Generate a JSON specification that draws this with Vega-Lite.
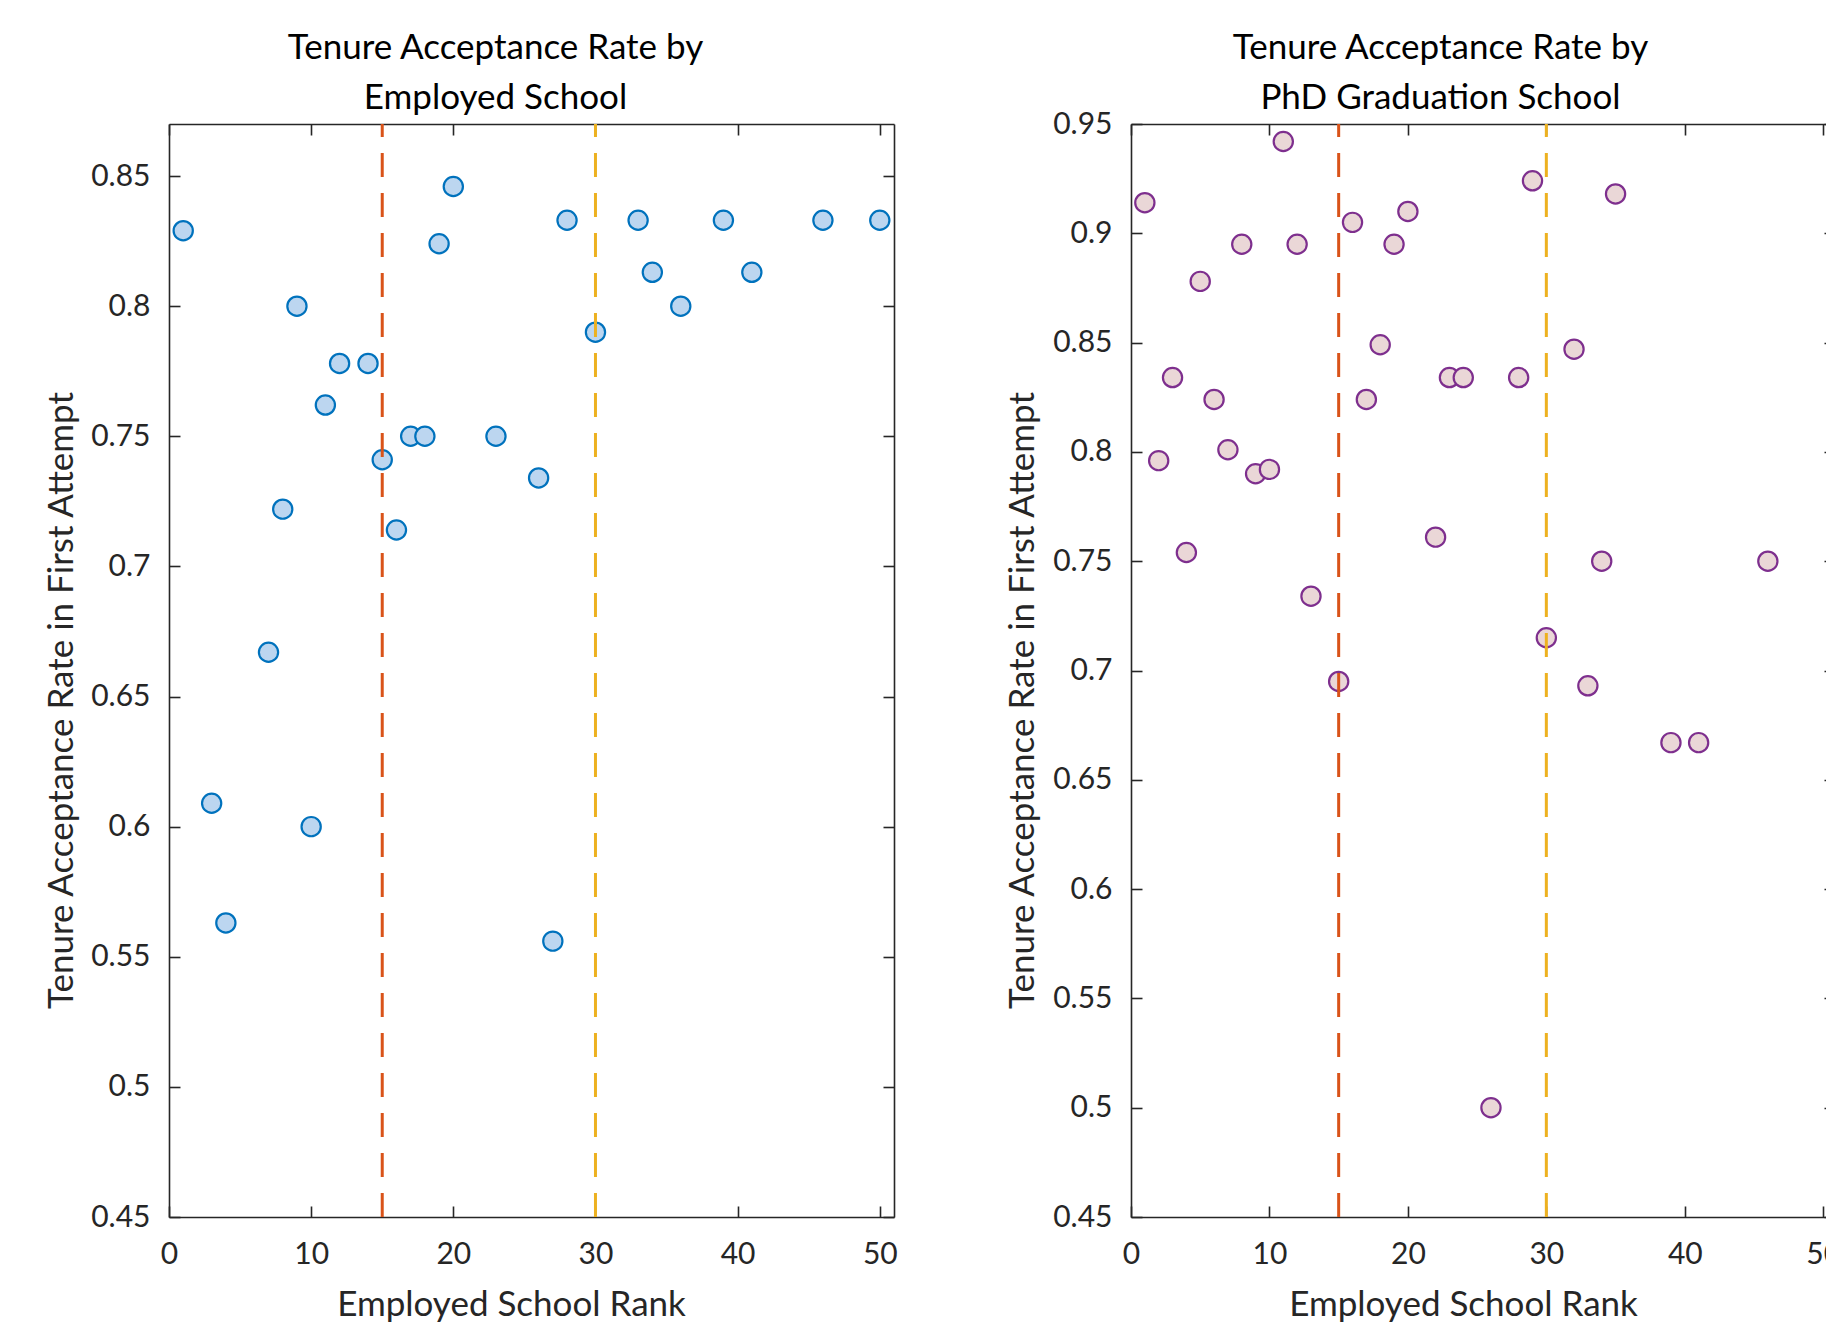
{
  "$schema": "https://vega.github.io/schema/vega-lite/v6.json",
  "background": "white",
  "padding": {"left": 44, "top": 30, "right": 0, "bottom": 0},
  "bounds": "flush",
  "spacing": 237,
  "datasets": {
    "employed": [
      {"rank": 1, "rate": 0.829}, {"rank": 3, "rate": 0.609}, {"rank": 4, "rate": 0.563},
      {"rank": 7, "rate": 0.667}, {"rank": 8, "rate": 0.722}, {"rank": 9, "rate": 0.800},
      {"rank": 10, "rate": 0.600}, {"rank": 11, "rate": 0.762}, {"rank": 12, "rate": 0.778},
      {"rank": 14, "rate": 0.778}, {"rank": 15, "rate": 0.741}, {"rank": 16, "rate": 0.714},
      {"rank": 17, "rate": 0.750}, {"rank": 18, "rate": 0.750}, {"rank": 19, "rate": 0.824},
      {"rank": 20, "rate": 0.846}, {"rank": 23, "rate": 0.750}, {"rank": 26, "rate": 0.734},
      {"rank": 27, "rate": 0.556}, {"rank": 28, "rate": 0.833}, {"rank": 30, "rate": 0.790},
      {"rank": 33, "rate": 0.833}, {"rank": 34, "rate": 0.813}, {"rank": 36, "rate": 0.800},
      {"rank": 39, "rate": 0.833}, {"rank": 41, "rate": 0.813}, {"rank": 46, "rate": 0.833},
      {"rank": 50, "rate": 0.833}
    ],
    "phd": [
      {"rank": 1, "rate": 0.914}, {"rank": 2, "rate": 0.796}, {"rank": 3, "rate": 0.834},
      {"rank": 4, "rate": 0.754}, {"rank": 5, "rate": 0.878}, {"rank": 6, "rate": 0.824},
      {"rank": 7, "rate": 0.801}, {"rank": 8, "rate": 0.895}, {"rank": 9, "rate": 0.790},
      {"rank": 10, "rate": 0.792}, {"rank": 11, "rate": 0.942}, {"rank": 12, "rate": 0.895},
      {"rank": 13, "rate": 0.734}, {"rank": 15, "rate": 0.695}, {"rank": 16, "rate": 0.905},
      {"rank": 17, "rate": 0.824}, {"rank": 18, "rate": 0.849}, {"rank": 19, "rate": 0.895},
      {"rank": 20, "rate": 0.910}, {"rank": 22, "rate": 0.761}, {"rank": 23, "rate": 0.834},
      {"rank": 24, "rate": 0.834}, {"rank": 26, "rate": 0.500}, {"rank": 28, "rate": 0.834},
      {"rank": 29, "rate": 0.924}, {"rank": 30, "rate": 0.715}, {"rank": 32, "rate": 0.847},
      {"rank": 33, "rate": 0.693}, {"rank": 34, "rate": 0.750}, {"rank": 35, "rate": 0.918},
      {"rank": 39, "rate": 0.667}, {"rank": 41, "rate": 0.667}, {"rank": 46, "rate": 0.750}
    ],
    "cutoffs": [
      {"rank": 15, "tier": "Top 15"},
      {"rank": 30, "tier": "Top 30"}
    ]
  },
  "hconcat": [
    {
      "width": 725,
      "height": 1093,
      "title": {"text": ["Tenure Acceptance Rate by", "Employed School"], "dx": -36, "offset": 7},
      "layer": [
        {
          "data": {"name": "employed"},
          "mark": {"type": "circle", "size": 370, "fill": "#BCD6F0", "stroke": "#0072BD", "strokeWidth": 2.2, "opacity": 1},
          "encoding": {
            "x": {
              "field": "rank", "type": "quantitative",
              "scale": {"domain": [0, 51], "nice": false, "zero": false},
              "axis": {"orient": "bottom", "values": [0, 10, 20, 30, 40, 50], "title": "Employed School Rank", "titleX": 342, "titleY": 87, "titleBaseline": "middle", "titleAlign": "center"}
            },
            "y": {
              "field": "rate", "type": "quantitative",
              "scale": {"domain": [0.45, 0.87], "nice": false, "zero": false},
              "axis": {"orient": "left", "values": [0.45, 0.5, 0.55, 0.6, 0.65, 0.7, 0.75, 0.8, 0.85], "format": ".2~f", "title": "Tenure Acceptance Rate in First Attempt", "titleX": -108, "titleY": 576, "titleBaseline": "middle", "titleAlign": "center", "titleAngle": -90}
            }
          }
        },
        {
          "data": {"name": "cutoffs"},
          "mark": {"type": "rule", "strokeDash": [24, 16], "strokeWidth": 3},
          "encoding": {
            "x": {
              "field": "rank", "type": "quantitative",
              "scale": {"domain": [0, 51], "nice": false, "zero": false},
              "axis": {"orient": "top", "values": [0, 10, 20, 30, 40, 50], "labels": false, "title": null}
            },
            "y": {
              "datum": 0.45, "type": "quantitative",
              "scale": {"domain": [0.45, 0.87], "nice": false, "zero": false},
              "axis": {"orient": "right", "values": [0.45, 0.5, 0.55, 0.6, 0.65, 0.7, 0.75, 0.8, 0.85], "labels": false, "title": null}
            },
            "y2": {"datum": 0.87},
            "color": {"field": "tier", "type": "nominal", "scale": {"domain": ["Top 15", "Top 30"], "range": ["#D95319", "#EDB120"]}, "legend": null}
          }
        }
      ],
      "resolve": {"axis": {"x": "independent", "y": "independent"}}
    },
    {
      "width": 695,
      "height": 1093,
      "title": {"text": ["Tenure Acceptance Rate by", "PhD Graduation School"], "dx": -38, "offset": -7},
      "layer": [
        {
          "data": {"name": "phd"},
          "mark": {"type": "circle", "size": 370, "fill": "#EAD7D7", "stroke": "#7E2F8E", "strokeWidth": 2.2, "opacity": 1},
          "encoding": {
            "x": {
              "field": "rank", "type": "quantitative",
              "scale": {"domain": [0, 50.2], "nice": false, "zero": false},
              "axis": {"orient": "bottom", "values": [0, 10, 20, 30, 40, 50], "title": "Employed School Rank", "titleX": 332, "titleY": 87, "titleBaseline": "middle", "titleAlign": "center"}
            },
            "y": {
              "field": "rate", "type": "quantitative",
              "scale": {"domain": [0.45, 0.95], "nice": false, "zero": false},
              "axis": {"orient": "left", "values": [0.45, 0.5, 0.55, 0.6, 0.65, 0.7, 0.75, 0.8, 0.85, 0.9, 0.95], "format": ".2~f", "title": "Tenure Acceptance Rate in First Attempt", "titleX": -109, "titleY": 576, "titleBaseline": "middle", "titleAlign": "center", "titleAngle": -90}
            }
          }
        },
        {
          "data": {"name": "cutoffs"},
          "mark": {"type": "rule", "strokeDash": [24, 16], "strokeWidth": 3},
          "encoding": {
            "x": {
              "field": "rank", "type": "quantitative",
              "scale": {"domain": [0, 50.2], "nice": false, "zero": false},
              "axis": {"orient": "top", "values": [0, 10, 20, 30, 40, 50], "labels": false, "title": null}
            },
            "y": {
              "datum": 0.45, "type": "quantitative",
              "scale": {"domain": [0.45, 0.95], "nice": false, "zero": false},
              "axis": {"orient": "right", "values": [0.45, 0.5, 0.55, 0.6, 0.65, 0.7, 0.75, 0.8, 0.85, 0.9, 0.95], "labels": false, "title": null, "domain": false, "tickSize": -2}
            },
            "y2": {"datum": 0.95},
            "color": {"field": "tier", "type": "nominal", "scale": {"domain": ["Top 15", "Top 30"], "range": ["#D95319", "#EDB120"]}, "legend": null}
          }
        }
      ],
      "resolve": {"axis": {"x": "independent", "y": "independent"}}
    }
  ],
  "config": {
    "view": {"stroke": null},
    "font": "Lato",
    "title": {"font": "Lato", "fontSize": 35, "fontWeight": "normal", "color": "#000000", "lineHeight": 50, "anchor": "middle", "frame": "group"},
    "axis": {
      "labelFont": "Lato", "labelFontSize": 30, "labelColor": "#262626",
      "titleFont": "Lato", "titleFontSize": 35, "titleFontWeight": "normal", "titleColor": "#262626",
      "domainColor": "#262626", "domainWidth": 1.6, "tickColor": "#262626", "tickWidth": 1.6,
      "tickSize": -11, "grid": false, "labelFlush": false, "labelOverlap": false, "labelBound": false
    },
    "axisX": {"labelPadding": 33},
    "axisY": {"labelPadding": 30}
  }
}
